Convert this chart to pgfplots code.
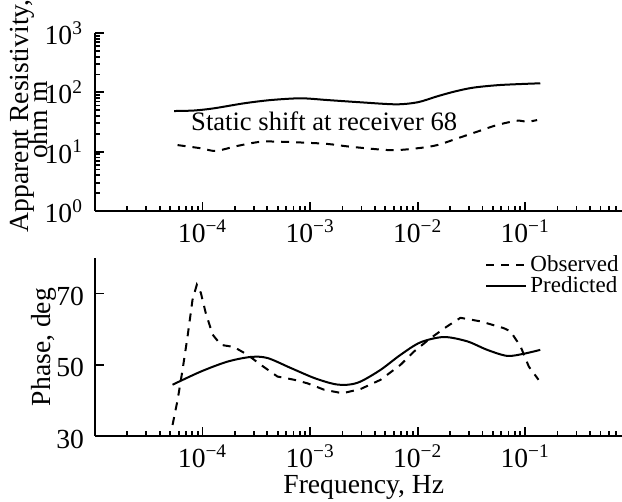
\documentclass[border=0pt]{standalone}
\usepackage{fontspec}
\setmainfont{Liberation Serif}
\usepackage{pgfplots}
\pgfplotsset{compat=1.18}
\newcommand{\dec}[1]{10\textsuperscript{#1}}

\begin{document}
\begin{tikzpicture}
\path[use as bounding box] (-47.5pt,-33pt) rectangle (263.5pt,218pt);
\pgfplotsset{
  every axis/.append style={
    scale only axis, width=263.5pt, height=89pt,
    xmode=log, xmin=1e-5, xmax=0.794,
    axis x line=bottom, axis y line=left,
    axis line style={-, line width=1.3pt},
    tick style={black, line width=0.9pt},
    tick align=inside,
    major tick length=4.5pt, minor tick length=2.5pt,
    xtick={1e-4,1e-3,1e-2,1e-1},
    xticklabels={\dec{−4},\dec{−3},\dec{−2},\dec{−1}},
    minor xtick={2e-5,3e-5,4e-5,5e-5,6e-5,7e-5,8e-5,9e-5,
                 2e-4,3e-4,4e-4,5e-4,6e-4,7e-4,8e-4,9e-4,
                 2e-3,3e-3,4e-3,5e-3,6e-3,7e-3,8e-3,9e-3,
                 2e-2,3e-2,4e-2,5e-2,6e-2,7e-2,8e-2,9e-2,
                 2e-1,3e-1,4e-1,5e-1,6e-1,7e-1},
    xticklabel style={anchor=base, yshift=-16pt},
    tick label style={font=\fontsize{13.8}{15}\selectfont},
    label style={font=\fontsize{13.8}{15}\selectfont},
    /pgf/number format/assume math mode=true,
    clip=false,
  },
}
% resistivity
\begin{axis}[
  at={(0pt,112.5pt)}, anchor=south west,
  ymode=log, ymin=1, ymax=1000,
  ytick={1,10,100,1000},
  yticklabels={\dec{0},\dec{1},\dec{2},\dec{3}},
  yticklabel style={xshift=-2.5pt},
  minor ytick={2,3,4,5,6,7,8,9,20,30,40,50,60,70,80,90,200,300,400,500,600,700,800,900},
]
\addplot[black, line width=1pt, smooth, tension=0.5] coordinates {
(5.44e-5,48.4) (8.36e-5,49.4) (1.28e-4,53.8) (2.43e-4,65.3) (4.31e-4,74.1)
(8.18e-4,79.3) (1.45e-3,74.1) (2.95e-3,67.9) (6.3e-3,62.8) (1.0e-2,68.0)
(1.5e-2,85.0) (2.2e-2,103.0) (3.3e-2,120.0) (5.9e-2,133.0) (1.38e-1,142.0)
};
\addplot[black, line width=1pt, dash pattern=on 4pt off 3.5pt, smooth, tension=0.5] coordinates {
(5.86e-5,12.9) (9.64e-5,11.4) (1.33e-4,10.3) (2.11e-4,12.5) (3.48e-4,14.7)
(5.33e-4,14.7) (8.73e-4,14.2) (1.45e-3,13.5) (2.39e-3,12.1) (5.60e-3,10.6)
(9.91e-3,11.4) (1.52e-2,12.9) (2.33e-2,16.7) (3.57e-2,21.7) (5.48e-2,28.1)
(8.41e-2,33.2) (1.04e-1,31.9) (1.29e-1,34.1)
};
\node[anchor=base west, inner sep=0pt, font=\fontsize{13.3}{15}\selectfont]
  at (axis cs:7.78e-5,22.3) {Static shift at receiver 68};
\node[rotate=90, anchor=base, inner sep=0pt, font=\fontsize{13.8}{15}\selectfont]
  at (axis description cs:-0.1262,0.535) {Apparent Resistivity,};
\node[rotate=90, anchor=base, inner sep=0pt, font=\fontsize{13.8}{15}\selectfont]
  at (axis description cs:-0.0902,0.51) {ohm m};
\end{axis}
% phase
\begin{axis}[
  at={(0pt,0pt)}, anchor=south west,
  ymin=30, ymax=80, ytick={30,50,70},
  yticklabel style={yshift=-1.5pt, xshift=-2pt},
  xlabel={Frequency, Hz},
  xlabel style={at={(axis description cs:0.51,0)}, anchor=base, yshift=-28.7pt},
  ylabel={Phase, deg},
  ylabel style={at={(axis description cs:-0.0968,0.5)}, anchor=center},
  legend style={draw=none, fill=none, at={(rel axis cs:1,1.02)}, anchor=north east,
    inner sep=0pt, font=\fontsize{11.5}{11.5}\selectfont,
    nodes={inner ysep=0pt, inner xsep=1.5pt, text height=8.3pt, text depth=2pt}},
  legend cell align=left,
  legend image code/.code={\draw[#1] (0pt,0pt) -- (20pt,0pt);},
]
\addplot[black, line width=1pt, dash pattern=on 4pt off 3.5pt] coordinates {
(5.26e-5,33.1) (5.86e-5,40.1) (6.52e-5,48.6) (7.26e-5,58.0) (8.07e-5,68.3)
(8.85e-5,72.5) (9.64e-5,70.2) (1.07e-4,64.6) (1.24e-4,58.5) (1.48e-4,55.6)
(1.96e-4,55.0) (2.62e-4,52.8) (3.48e-4,50.0) (4.97e-4,46.7) (7.10e-4,45.8)
(9.44e-4,44.8) (1.35e-3,43.0) (2.0e-3,42.0) (2.95e-3,43.2) (4.53e-3,45.8)
(6.93e-3,50.0) (9.23e-3,53.7) (1.32e-2,57.5) (1.88e-2,60.8) (2.50e-2,63.2)
(3.84e-2,62.2) (6.31e-2,60.3) (7.29e-2,59.4) (9.04e-2,55.2) (0.108,49.5)
(0.133,45.8)
};
\addlegendentry{Observed}
\addplot[black, line width=1pt, smooth, tension=0.5] coordinates {
(5.26e-5,44.4) (9.64e-5,48.1) (1.71e-4,50.9) (2.81e-4,52.2) (4.02e-4,51.9)
(6.61e-4,49.1) (1.09e-3,46.3) (1.67e-3,44.6) (2.24e-3,44.4) (2.95e-3,45.3)
(4.53e-3,48.6) (6.93e-3,52.8) (1.06e-2,56.3) (1.75e-2,57.8) (2.88e-2,56.6)
(4.43e-2,54.2) (6.79e-2,52.5) (9.68e-2,53.1) (0.138,54.2)
};
\addlegendentry{Predicted}
\end{axis}
\end{tikzpicture}
\end{document}
